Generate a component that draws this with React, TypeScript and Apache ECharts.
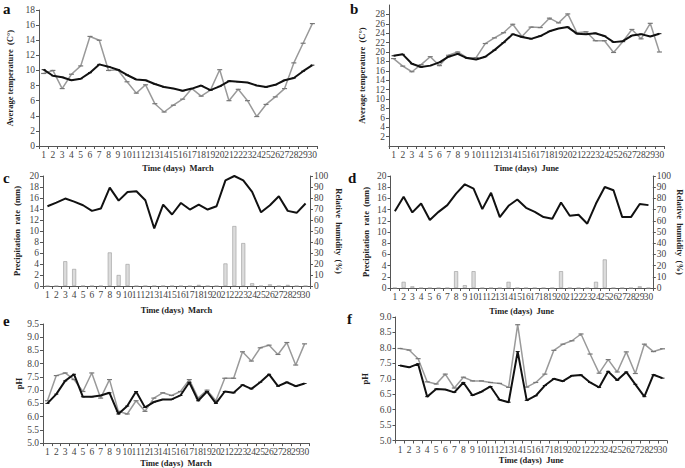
import React, { useEffect, useRef } from "react";
import * as echarts from "echarts";

const days = ["1","2","3","4","5","6","7","8","9","10","11","12","13","14","15","16","17","18","19","20","21","22","23","24","25","26","27","28","29","30"];

// a: March temperature
const tempMarGray = [9.6,10.0,7.6,9.5,10.6,14.5,14.0,10.0,10.1,8.5,7.0,8.1,5.6,4.5,5.4,6.2,7.6,6.6,7.4,10.1,6.0,7.5,6.0,3.9,5.5,6.5,7.6,11.0,13.6,16.2];
const tempMarBlack = [10.1,9.3,9.1,8.7,8.9,9.7,10.8,10.5,10.1,9.4,8.8,8.7,8.2,7.8,7.6,7.3,7.6,8.0,7.4,7.9,8.6,8.5,8.4,8.0,7.8,8.1,8.7,9.0,9.9,10.7];
// b: June temperature
const tempJunGray = [18.6,17.0,15.8,17.3,19.0,17.1,19.3,20.0,18.8,18.8,21.8,23.0,24.1,25.9,23.3,25.3,25.2,27.2,26.2,28.1,24.1,24.3,22.4,22.4,19.9,22.2,24.8,22.8,26.1,20.0];
const tempJunBlack = [19.2,19.5,17.5,16.8,17.1,17.8,19.0,19.6,18.7,18.4,19.0,20.4,22.0,23.8,23.2,22.8,23.4,24.4,25.0,25.3,23.9,23.8,24.0,23.4,22.1,22.3,23.5,23.8,23.3,23.9];
// c: March precipitation & humidity
const precMar = [0,0,4.5,3.1,0,0,0,6.1,2.0,4.0,0,0,0,0,0,0,0,0.2,0,0,4.1,10.9,7.8,0.5,0,0.3,0,0.2,0,0];
const humMar = [72.5,75.8,79.5,76.7,73.4,68.3,70.4,89.4,77.6,85.5,86.1,78,52.3,74,65,75.5,69.5,74,69.5,72.5,96,100,96,85.5,67,73.4,81.6,68.3,66.5,75];
// d: June precipitation & humidity
const precJun = [0,1.1,0.3,0,0,0,0,3.0,0.5,3.0,0,0,0,1.1,0,0,0,0,0,3.0,0,0,0,1.1,5.1,0,0,0,0.3,0];
const humJun = [68.6,81.4,67.5,75.4,60.7,68,74,84.3,92.6,88.8,70.4,85,63.3,73.4,79,71.6,68,63.3,61.8,76.3,64.5,65.4,57.4,75.4,90.2,87.3,63.3,63.3,75,74];
// e: March pH
const phMarGray = [6.6,7.55,7.65,7.4,6.95,7.65,6.7,7.4,6.2,6.1,6.6,6.2,6.7,6.9,6.8,6.95,7.4,6.7,7.0,6.6,7.45,7.45,8.45,8.1,8.6,8.7,8.35,8.8,7.95,8.75];
const phMarBlack = [6.5,6.85,7.35,7.6,6.75,6.75,6.8,6.9,6.1,6.4,6.95,6.35,6.55,6.65,6.65,6.8,7.3,6.6,6.95,6.5,6.95,6.9,7.2,7.05,7.3,7.6,7.15,7.3,7.15,7.25];
// f: June pH
const phJunGray = [7.98,7.93,7.65,6.9,6.83,7.15,6.7,7.05,6.93,6.93,6.88,6.85,6.72,8.75,6.73,6.88,7.15,7.92,8.12,8.23,8.45,7.8,7.18,7.62,7.22,7.87,7.17,8.12,7.88,7.97];
const phJunBlack = [7.43,7.37,7.48,6.42,6.67,6.65,6.56,6.88,6.46,6.58,6.75,6.32,6.24,7.88,6.3,6.45,6.78,7.0,6.92,7.1,7.12,6.88,6.72,7.24,6.95,7.22,6.82,6.42,7.13,7.02];

const panelLetters = ["a", "b", "c", "d", "e", "f"];
const xTitles = ["Time (days)  March", "Time (days)  June", "Time (days)  March", "Time (days)  June", "Time (days)  March", "Time (days)  June"];

const FONT = "'Liberation Serif', 'Times New Roman', serif";
const AXIS_COLOR = "#555";
const LABEL_COLOR = "#444";

export default function App() {
  const ref = useRef<HTMLDivElement>(null);
  useEffect(() => {
    if (!ref.current) return;
    const chart = echarts.init(ref.current, undefined, { renderer: "svg" });

    const grids = [
      { left: 39, top: 10, width: 278, height: 136 },
      { left: 389, top: 5, width: 275, height: 141 },
      { left: 43, top: 176, width: 267, height: 110 },
      { left: 390.5, top: 176, width: 265, height: 112 },
      { left: 43, top: 324, width: 266, height: 121.5 },
      { left: 395.5, top: 317, width: 271.5, height: 123.5 },
    ];
    const xGaps = [17, 17, 19, 18, 14, 13];

    const nameStyle = { fontFamily: FONT, fontWeight: "bold" as const, fontSize: 8.5, color: "#222" };
    const labelStyle = { fontFamily: FONT, fontSize: 9.5, color: LABEL_COLOR };
    const axisLine = { show: true, lineStyle: { color: AXIS_COLOR, width: 1 } };
    const axisTick = { show: true, length: 3, lineStyle: { color: AXIS_COLOR } };

    const xAxis = grids.map((_, i) => ({
      type: "category" as const,
      gridIndex: i,
      data: days,
      boundaryGap: true,
      axisLine,
      axisTick: { ...axisTick, interval: 0 },
      axisLabel: { ...labelStyle, interval: 0, margin: 4 },
      name: xTitles[i],
      nameLocation: "middle" as const,
      nameGap: xGaps[i],
      nameTextStyle: nameStyle,
    }));

    const yBase = (gi: number, min: number, max: number, interval: number, name: string, gap: number, fmt?: (v: number) => string) => ({
      type: "value" as const,
      gridIndex: gi,
      min,
      max,
      interval,
      splitLine: { show: false },
      axisLine,
      axisTick,
      axisLabel: { ...labelStyle, margin: 4, formatter: fmt },
      name,
      nameLocation: "middle" as const,
      nameGap: gap,
      nameTextStyle: nameStyle,
    });

    const yAxis: any[] = [
      yBase(0, 0, 18, 2, "Average temperature  (C°)", 25),
      yBase(1, 0, 30, 2, "Average temperature  (C°)", 23),
      yBase(2, 0, 20, 2, "Precipitation  rate  (mm)", 22),
      { ...yBase(2, 0, 100, 10, "Relative  humidity  (%)", 24), position: "right", nameRotate: -90 },
      yBase(3, 0, 20, 2, "Precipitation  rate  (mm)", 20),
      { ...yBase(3, 0, 100, 10, "Relative  humidity  (%)", 22), position: "right", nameRotate: -90 },
      yBase(4, 5, 9.5, 0.5, "pH", 14, (v: number) => v.toFixed(1)),
      yBase(5, 5, 9, 0.5, "pH", 26, (v: number) => v.toFixed(1)),
    ];

    const grayLine = (xi: number, yi: number, data: number[]) => ({
      type: "line" as const,
      xAxisIndex: xi,
      yAxisIndex: yi,
      data,
      symbol: "rect",
      symbolSize: [5, 1.2],
      lineStyle: { color: "#9a9a9a", width: 1.5 },
      itemStyle: { color: "#777" },
      z: 2,
    });
    const blackLine = (xi: number, yi: number, data: number[]) => ({
      type: "line" as const,
      xAxisIndex: xi,
      yAxisIndex: yi,
      data,
      symbol: "rect",
      symbolSize: [4, 1],
      lineStyle: { color: "#111", width: 2 },
      itemStyle: { color: "#111" },
      z: 3,
    });
    const bars = (xi: number, yi: number, data: number[]) => ({
      type: "bar" as const,
      xAxisIndex: xi,
      yAxisIndex: yi,
      data,
      barWidth: 4,
      itemStyle: { color: "#dcdcdc", borderColor: "#999", borderWidth: 0.6 },
    });
    const humLine = (xi: number, yi: number, data: number[]) => ({
      type: "line" as const,
      xAxisIndex: xi,
      yAxisIndex: yi,
      data,
      symbol: "none",
      lineStyle: { color: "#111", width: 2 },
      z: 3,
    });

    const letterPos = [
      [3, 1], [350, 1], [3, 170], [348, 170], [3, 313], [347, 311],
    ];

    chart.setOption({
      animation: false,
      backgroundColor: "#fff",
      grid: grids.map((g) => ({ ...g, containLabel: false })),
      xAxis,
      yAxis,
      series: [
        grayLine(0, 0, tempMarGray),
        blackLine(0, 0, tempMarBlack),
        grayLine(1, 1, tempJunGray),
        blackLine(1, 1, tempJunBlack),
        bars(2, 2, precMar),
        humLine(2, 3, humMar),
        bars(3, 4, precJun),
        humLine(3, 5, humJun),
        grayLine(4, 6, phMarGray),
        blackLine(4, 6, phMarBlack),
        grayLine(5, 7, phJunGray),
        blackLine(5, 7, phJunBlack),
      ],
      graphic: panelLetters.map((t, i) => ({
        type: "text",
        left: letterPos[i][0],
        top: letterPos[i][1],
        style: { text: t, fontFamily: FONT, fontWeight: "bold", fontSize: 15, fill: "#111" },
      })),
    });
    return () => chart.dispose();
  }, []);
  return <div ref={ref} style={{ position: "absolute", left: 0, top: 0, width: 685, height: 468 }} />;
}
